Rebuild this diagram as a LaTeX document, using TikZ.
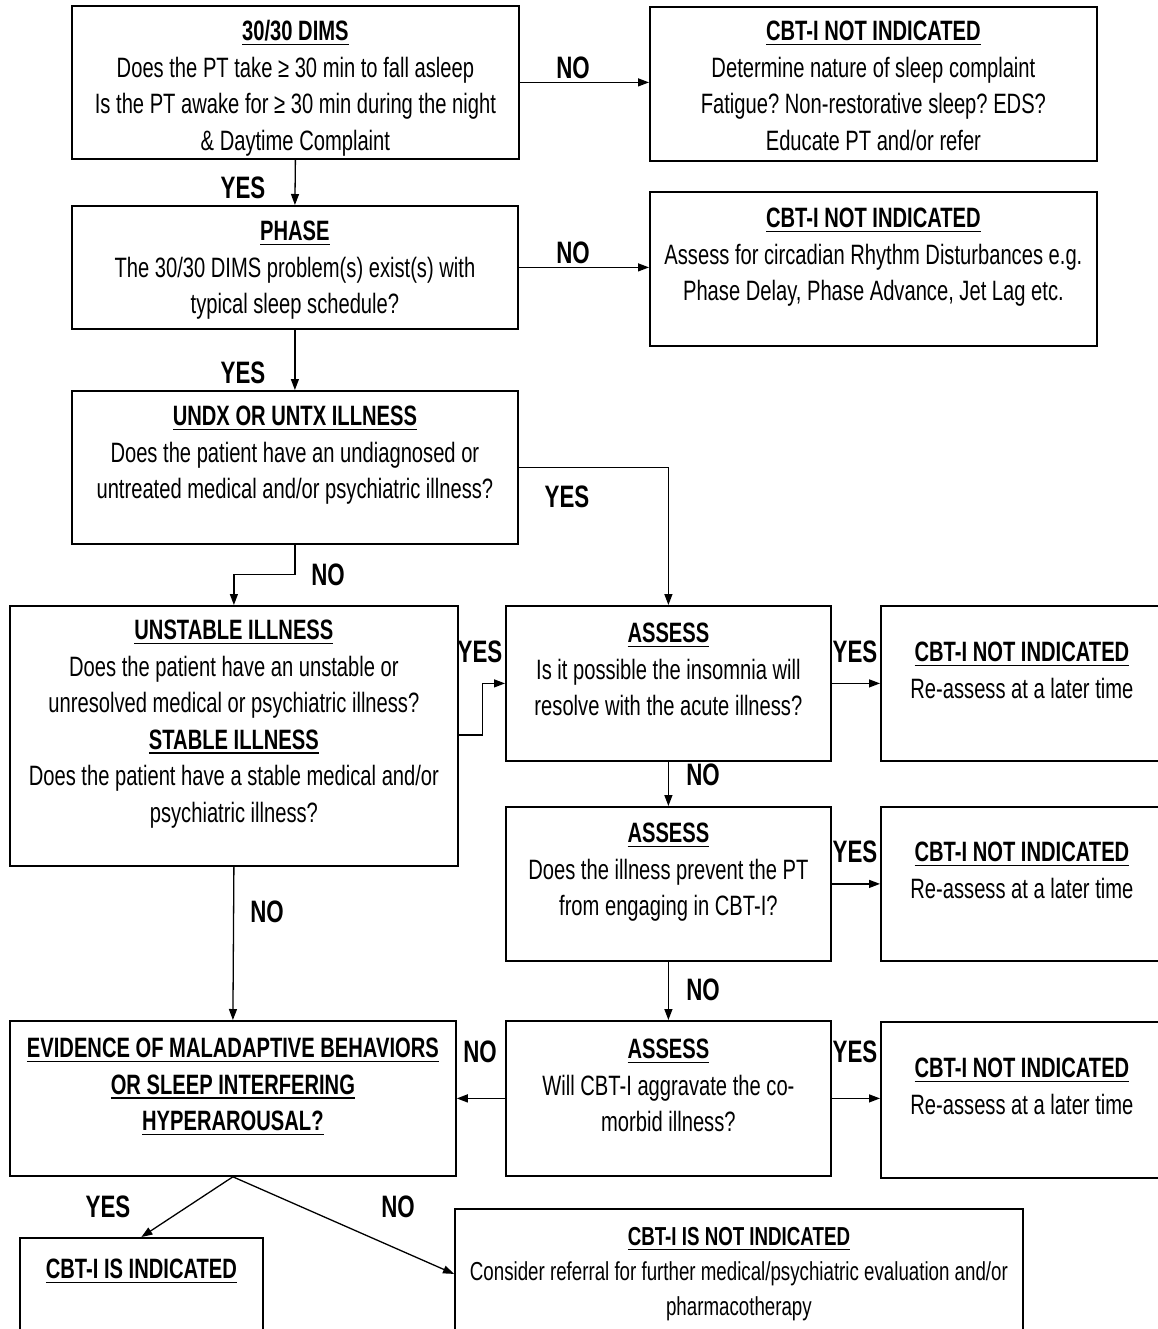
\documentclass[tikz,border=0pt]{standalone}
\usepackage{fontspec}
\setmainfont{Liberation Sans}[FakeStretch=0.72]
\usetikzlibrary{arrows.meta}
\frenchspacing

\newcommand{\undl}[1]{\leavevmode\setbox0=\hbox{#1}\rlap{\rule[-4.5pt]{\wd0}{1.8pt}}\box0}
\newcommand{\hdr}[1]{\undl{\textbf{#1}}}
\newcommand{\flowtxt}[4]{\parbox[c][#2][t]{#1}{\centering\rule{0pt}{#3}#4\par}}

\begin{document}
\begin{tikzpicture}[x=1pt,y=-1pt]
\tikzstyle{every path}=[line width=1.3pt]
\tikzstyle{flowbox}=[draw,line width=1.8pt,inner sep=0pt,anchor=north west,
  font=\fontsize{28}{36.5}\selectfont]
\tikzstyle{answer}=[inner sep=0pt,font=\fontsize{31}{32}\selectfont\bfseries]
\tikzstyle{arr}=[-{Triangle[length=11pt,width=8pt]}]

\useasboundingbox (0,0) rectangle (1157,1329);

%% Left column: screening questions
\node[flowbox] (dims) at (71,5) {\flowtxt{447pt}{153pt}{35pt}{\hdr{30/30 DIMS}\\
  Does the PT take ≥ 30 min to fall asleep\\
  Is the PT awake for ≥ 30 min during the night\\
  \& Daytime Complaint}};
\node[flowbox] (phase) at (71,205) {\flowtxt{446pt}{123pt}{35pt}{\hdr{PHASE}\\
  The 30/30 DIMS problem(s) exist(s) with\\
  typical sleep schedule?}};
\node[flowbox] (undx) at (71,390) {\flowtxt{446pt}{153pt}{35pt}{\hdr{UNDX OR UNTX ILLNESS}\\
  Does the patient have an undiagnosed or\\
  untreated medical and/or psychiatric illness?}};
\node[flowbox] (unst) at (9,605) {\flowtxt{448pt}{260pt}{34pt}{\hdr{UNSTABLE ILLNESS}\\
  Does the patient have an unstable or\\
  unresolved medical or psychiatric illness?\\
  \hdr{STABLE ILLNESS}\\
  Does the patient have a stable medical and/or\\
  psychiatric illness?}};
\node[flowbox] (evid) at (9,1020) {\flowtxt{446pt}{155pt}{37pt}{%
  \hdr{EVIDENCE OF MALADAPTIVE BEHAVIORS}\\
  \hdr{OR SLEEP INTERFERING}\\
  \hdr{HYPERAROUSAL?}}};

%% Outcomes of the top questions
\node[flowbox] (nind1) at (649,6) {\flowtxt{447pt}{154pt}{34pt}{\hdr{CBT-I NOT INDICATED}\\
  Determine nature of sleep complaint\\
  Fatigue? Non-restorative sleep? EDS?\\
  Educate PT and/or refer}};
\node[flowbox] (nind2) at (649,191) {\flowtxt{447pt}{154pt}{36pt}{\hdr{CBT-I NOT INDICATED}\\
  Assess for circadian Rhythm Disturbances e.g.\\
  Phase Delay, Phase Advance, Jet Lag etc.}};

%% Middle column: assess the illness
\node[flowbox] (assess1) at (505,605) {\flowtxt{325pt}{155pt}{37pt}{\hdr{ASSESS}\\
  Is it possible the insomnia will\\
  resolve with the acute illness?}};
\node[flowbox] (assess2) at (505,806) {\flowtxt{325pt}{154pt}{36pt}{\hdr{ASSESS}\\
  Does the illness prevent the PT\\
  from engaging in CBT-I?}};
\node[flowbox] (assess3) at (505,1020) {\flowtxt{325pt}{155pt}{38pt}{\hdr{ASSESS}\\
  Will CBT-I aggravate the co-\\
  morbid illness?}};

%% Right column: re-assess later
\node[flowbox] (nind3) at (880,605) {\flowtxt{282pt}{155pt}{56pt}{\hdr{CBT-I NOT INDICATED}\\
  Re-assess at a later time}};
\node[flowbox] (nind4) at (880,806) {\flowtxt{282pt}{154pt}{55pt}{\hdr{CBT-I NOT INDICATED}\\
  Re-assess at a later time}};
\node[flowbox] (nind5) at (880,1021) {\flowtxt{282pt}{156pt}{56pt}{\hdr{CBT-I NOT INDICATED}\\
  Re-assess at a later time}};

%% Final decision
\node[flowbox] (indic) at (19,1237) {\flowtxt{243pt}{100pt}{41pt}{\hdr{CBT-I IS INDICATED}}};
\node[flowbox,font=\fontsize{26}{35}\selectfont] (notind) at (454,1208)
  {\flowtxt{568pt}{130pt}{37pt}{\hdr{CBT-I IS NOT INDICATED}\\
  Consider referral for further medical/psychiatric evaluation and/or\\
  pharmacotherapy}};

%% Connectors
\draw[arr] (dims.east) -- (dims.east -| nind1.west);
\draw[arr] (dims.south) -- (phase.north);
\draw[arr] (phase.east) -- (phase.east -| nind2.west);
\draw[arr] (phase.south) -- (undx.north);
\draw[arr] (undx.east) -| (assess1.north);
\draw[arr] (undx.south) -- ++(0,30) -| (unst.north);
\draw[arr] (unst.east |- 0,735) -- ++(24,0) |- (assess1.west);
\draw[arr] (assess1.east) -- (assess1.east -| nind3.west);
\draw[arr] (assess1.south) -- (assess2.north);
\draw[arr] (assess2.east) -- (assess2.east -| nind4.west);
\draw[arr] (assess2.south) -- (assess3.north);
\draw[arr] (assess3.east) -- (assess3.east -| nind5.west);
\draw[arr] (assess3.west) -- (assess3.west -| evid.east);
\draw[arr] (unst.south) -- (evid.north);
\draw[arr] (evid.south) -- (indic.north);
\draw[arr] (evid.south) -- (notind.west);

%% Answers
\node[answer] (no1) at (573,68) {NO};
\node[answer] (yes1) at (243,188) {YES};
\node[answer] (no2) at (573,253) {NO};
\node[answer] (yes2) at (243,373) {YES};
\node[answer] (yes3) at (567,497) {YES};
\node[answer] (no3) at (328,575) {NO};
\node[answer] (yes4) at (480,652) {YES};
\node[answer] (yes5) at (855,652) {YES};
\node[answer] (no4) at (703,775) {NO};
\node[answer] (yes6) at (855,852) {YES};
\node[answer] (no5) at (703,990) {NO};
\node[answer] (no6) at (480,1052) {NO};
\node[answer] (yes7) at (855,1052) {YES};
\node[answer] (no7) at (267,912) {NO};
\node[answer] (yes8) at (108,1207) {YES};
\node[answer] (no8) at (398,1207) {NO};

\end{tikzpicture}
\end{document}
